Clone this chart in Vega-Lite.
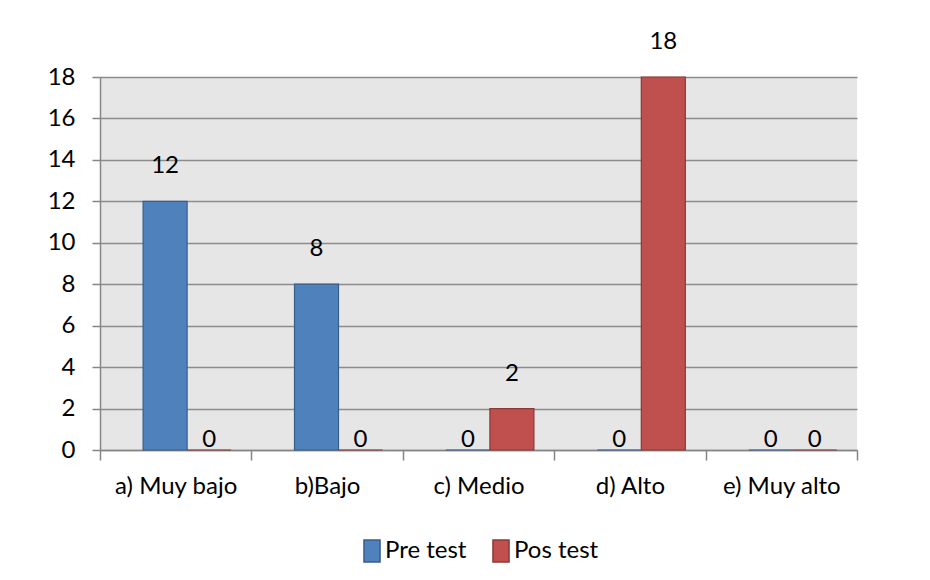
{
  "$schema": "https://vega.github.io/schema/vega-lite/v6.json",
  "width": 757,
  "height": 373,
  "autosize": "none",
  "padding": {"left": 100, "top": 77, "right": 73, "bottom": 130},
  "background": "white",
  "data": {
    "values": [
      {"cat": "a) Muy bajo", "serie": "Pre test", "valor": 12},
      {"cat": "a) Muy bajo", "serie": "Pos test", "valor": 0},
      {"cat": "b)Bajo", "serie": "Pre test", "valor": 8},
      {"cat": "b)Bajo", "serie": "Pos test", "valor": 0},
      {"cat": "c) Medio", "serie": "Pre test", "valor": 0},
      {"cat": "c) Medio", "serie": "Pos test", "valor": 2},
      {"cat": "d) Alto", "serie": "Pre test", "valor": 0},
      {"cat": "d) Alto", "serie": "Pos test", "valor": 18},
      {"cat": "e) Muy alto", "serie": "Pre test", "valor": 0},
      {"cat": "e) Muy alto", "serie": "Pos test", "valor": 0}
    ]
  },
  "encoding": {
    "x": {
      "field": "cat",
      "type": "nominal",
      "sort": null,
      "title": null,
      "scale": {"paddingInner": 0, "paddingOuter": 0},
      "axis": {
        "labelAngle": 0,
        "labelFontSize": 24,
        "labelFont": "Lato",
        "labelColor": "#000000",
        "labelPadding": 14,
        "tickBand": "extent",
        "tickSize": 10,
        "tickColor": "#868686",
        "tickWidth": 1.5,
        "domainColor": "#868686",
        "domainWidth": 1.5
      }
    },
    "xOffset": {
      "field": "serie",
      "sort": ["Pre test", "Pos test"],
      "scale": {"paddingInner": 0, "paddingOuter": 0.72, "align": 0.68}
    },
    "y": {
      "field": "valor",
      "type": "quantitative",
      "title": null,
      "scale": {"domain": [0, 18]},
      "axis": {
        "values": [0, 2, 4, 6, 8, 10, 12, 14, 16, 18],
        "labelFontSize": 24,
        "labelFont": "Lato",
        "labelColor": "#000000",
        "labelPadding": 17,
        "tickSize": 8,
        "tickColor": "#868686",
        "tickWidth": 1.5,
        "domainColor": "#868686",
        "domainWidth": 1.5,
        "grid": true,
        "gridColor": "#8c8c8c",
        "gridWidth": 1.5
      }
    }
  },
  "layer": [
    {
      "mark": {"type": "bar", "strokeWidth": 1.2},
      "encoding": {
        "color": {
          "field": "serie",
          "type": "nominal",
          "sort": ["Pre test", "Pos test"],
          "scale": {"domain": ["Pre test", "Pos test"], "range": ["#4f81bd", "#c0504d"]},
          "legend": {
            "title": null,
            "orient": "none",
            "direction": "horizontal",
            "legendX": 260,
            "legendY": 462,
            "symbolType": "M-0.73,-1H0.73V1H-0.73Z",
            "symbolSize": 484,
            "symbolStrokeWidth": 1.5,
            "labelFontSize": 24,
            "labelFont": "Lato",
            "labelColor": "#000000",
            "columnPadding": 22,
            "labelOffset": 1
          }
        },
        "stroke": {
          "field": "serie",
          "type": "nominal",
          "sort": ["Pre test", "Pos test"],
          "scale": {"domain": ["Pre test", "Pos test"], "range": ["#385d8a", "#8c3836"]}
        }
      }
    },
    {
      "transform": [{"filter": "datum.valor > 0"}],
      "mark": {"type": "text", "dy": -35, "fontSize": 24, "font": "Lato", "color": "#000000"},
      "encoding": {"text": {"field": "valor", "type": "quantitative"}}
    },
    {
      "transform": [{"filter": "datum.valor == 0"}],
      "mark": {"type": "text", "dy": -10, "fontSize": 24, "font": "Lato", "color": "#000000"},
      "encoding": {"text": {"field": "valor", "type": "quantitative"}}
    }
  ],
  "config": {
    "view": {"fill": "#e6e6e6", "stroke": null}
  }
}
